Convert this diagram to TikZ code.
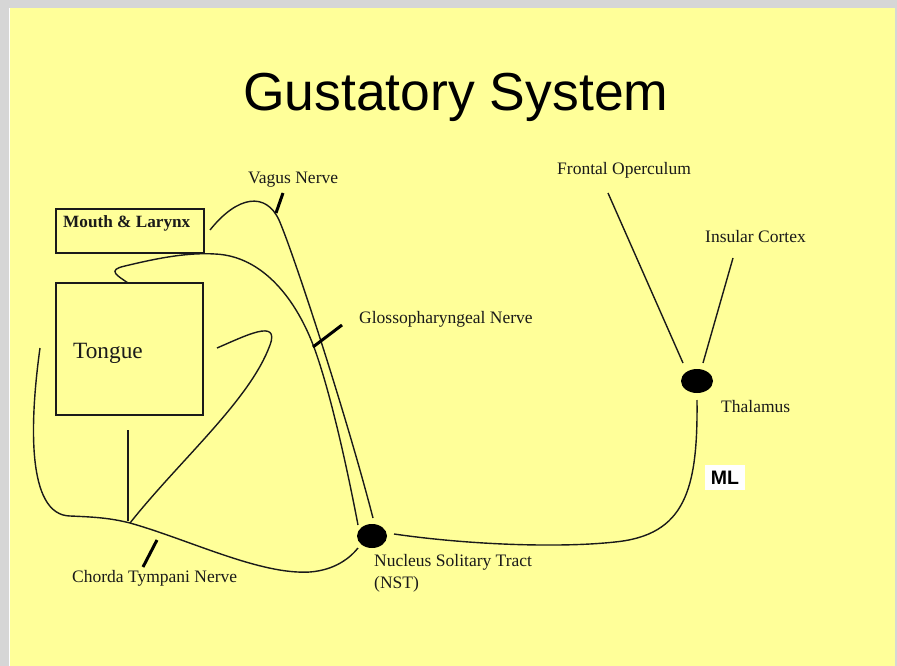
\documentclass[tikz,border=0pt]{standalone}
\usepackage{fontspec}
\setmainfont{Liberation Serif}
\newfontfamily\titlefont{Liberation Sans}
\usetikzlibrary{shapes.geometric}
\definecolor{bggray}{HTML}{D6D6D6}
\definecolor{slideyellow}{HTML}{FFFF99}
\definecolor{ink}{HTML}{1A1A1A}
\tikzset{
  lbl/.style={anchor=base west, inner sep=0pt, text=ink, font=\fontsize{17.5}{22}\selectfont},
  organ/.style={draw=ink, line width=1.5pt, inner sep=0pt, anchor=north west},
  nerve/.style={draw=ink, line width=1.4pt},
  tick/.style={draw=black, line width=3pt},
  dot/.style={ellipse, fill=black, inner sep=0pt},
}
\begin{document}
\begin{tikzpicture}[x=1pt, y=-1pt]
\useasboundingbox (0,0) rectangle (897,666);
\fill[bggray] (0,0) rectangle (897,666);
\fill[slideyellow] (10,8) rectangle (895,666);
\draw[white, line width=1pt] (9.5,8) -- (9.5,666);

% title
\node[anchor=base west, inner sep=0pt, font=\titlefont\fontsize{53.5}{60}\selectfont] (title) at (243,111) {Gustatory System};

% organ boxes
\node[organ, minimum width=148pt, minimum height=44pt] (mouth) at (55,208) {};
\node[anchor=base west, inner sep=0pt, font=\bfseries\fontsize{17.2}{20}\selectfont, text=ink] (mouthtxt) at (63,227) {Mouth \& Larynx};
\node[organ, minimum width=147pt, minimum height=132pt] (tongue) at (55,282) {};
\node[anchor=base west, inner sep=0pt, font=\fontsize{23.3}{26}\selectfont, text=ink] (tonguetxt) at (73,358) {Tongue};

% nuclei
\node[dot, minimum width=30pt, minimum height=24pt] (nst) at (372,536) {};
\node[dot, minimum width=32pt, minimum height=24pt] (thal) at (697,381) {};

% labels
\node[lbl] (vaguslbl) at (248,183) {Vagus Nerve};
\node[lbl] (glosslbl) at (359,323) {Glossopharyngeal Nerve};
\node[lbl] (nstlbl) at (374,566) {Nucleus Solitary Tract};
\node[lbl] (nstabbr) at (374,588) {(NST)};
\node[lbl] (chordalbl) at (72,582) {Chorda Tympani Nerve};
\node[lbl] (frontlbl) at (557,175) {Frontal Operculum};
\node[lbl] (insulbl) at (705,242) {Insular Cortex};
\node[lbl] (thallbl) at (721,412) {Thalamus};
\node[fill=white, inner sep=0pt, minimum width=40pt, minimum height=25pt, font=\titlefont\bfseries\fontsize{19.5}{22}\selectfont] (ml) at (725,477.5) {ML};

% named end points
\coordinate (vagusstart) at (210,230);
\coordinate (vaguspeak) at (279,220);
\coordinate (vagusend) at (373,518);
\coordinate (glossstart) at (128,283);
\coordinate (glossend) at (358,525);
\coordinate (hairstart) at (217,348);
\coordinate (hairtip) at (270,345);
\coordinate (junction) at (130,523);
\coordinate (leftstart) at (40,348);
\coordinate (leftend) at (358,548);
\coordinate (stemtop) at (128,430);
\coordinate (nstout) at (394,534);
\coordinate (thalin) at (697,400);
\coordinate (frontend) at (608,193);
\coordinate (frontthal) at (683,363);
\coordinate (insuend) at (733,258);
\coordinate (insuthal) at (703,363);

% vagus nerve
\draw[nerve] (vagusstart) .. controls (238,195) and (266,192) .. (vaguspeak)
  .. controls (293,252) and (345,410) .. (vagusend);
% glossopharyngeal nerve
\draw[nerve] (glossstart) .. controls (118,276) and (106,270) .. (125,266)
  .. controls (150,260) and (185,252) .. (215,254)
  .. controls (263,256) and (297,300) .. (315,350)
  .. controls (330,392) and (346,462) .. (glossend);
% chorda tympani hairpin
\draw[nerve] (hairstart) .. controls (245,336) and (280,318) .. (hairtip)
  .. controls (250,400) and (180,460) .. (junction);
% stem from tongue
\draw[nerve] (stemtop) -- (128,521);
% left loop and chorda tympani to NST
\draw[nerve] (leftstart) .. controls (30,420) and (26,515) .. (70,516)
  .. controls (95,517) and (110,518) .. (junction)
  .. controls (190,540) and (260,575) .. (310,572)
  .. controls (335,570) and (350,558) .. (leftend);
% NST to thalamus
\draw[nerve] (nstout) .. controls (470,545) and (560,548) .. (615,542)
  .. controls (685,535) and (698,490) .. (thalin);
% thalamus to cortex
\draw[nerve] (frontend) -- (frontthal);
\draw[nerve] (insuend) -- (insuthal);

% nerve ticks
\draw[tick] (283,193) -- (276,213);
\draw[tick] (342,325) -- (313,347);
\draw[tick] (157,540) -- (143,567);
\end{tikzpicture}
\end{document}
